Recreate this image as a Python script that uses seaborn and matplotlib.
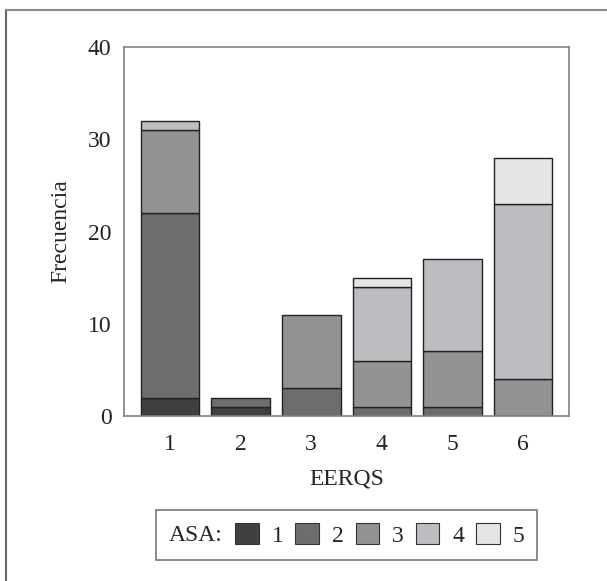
import numpy as np
import matplotlib
matplotlib.use("Agg")
import matplotlib.pyplot as plt
import seaborn as sns
from matplotlib.patches import Patch
from matplotlib.lines import Line2D
from matplotlib.offsetbox import HPacker

# Data: frequency per EERQS group, split by ASA class
eerqs = ["1", "2", "3", "4", "5", "6"]
asa_labels = ["1", "2", "3", "4", "5"]
asa1 = [2, 1, 0, 0, 0, 0]
asa2 = [20, 1, 3, 1, 1, 0]
asa3 = [9, 0, 8, 5, 6, 4]
asa4 = [1, 0, 0, 8, 10, 19]
asa5 = [0, 0, 0, 1, 0, 5]
colors = ["#404040", "#6d6d6d", "#939394", "#bcbdc0", "#e4e5e7"]

sns.set_style("white")
plt.rcParams["font.family"] = ["Liberation Serif", "DejaVu Serif"]
FS = 17

fig = plt.figure(figsize=(6.07, 5.81), dpi=100)
ax = fig.add_axes([0.2043, 0.284, 0.7331, 0.635])

layers = [asa1, asa2, asa3, asa4, asa5]
bottom = np.zeros(len(eerqs))
for vals, col in zip(layers, colors):
    vals = np.array(vals, dtype=float)
    mask = vals > 0
    sns.barplot(x=np.array(eerqs)[mask], y=vals[mask], bottom=bottom[mask],
                order=eerqs, color=col, saturation=1, width=0.83,
                edgecolor="#222222", linewidth=1.0, ax=ax)
    bottom += vals

ax.set_xlim(-0.65, 5.65)
ax.set_ylim(0, 40)
ax.set_yticks([0, 10, 20, 30, 40])
ax.set_xlabel("EERQS", fontsize=FS, labelpad=10)
ax.set_ylabel("Frecuencia", fontsize=FS, labelpad=12)
ax.tick_params(axis="both", labelsize=FS, colors="#222222", length=7, width=1,
               direction="out", pad=2)
ax.tick_params(axis="x", color="#777777", pad=6)
ax.tick_params(axis="y", color="#777777")
for sp in ax.spines.values():
    sp.set_color("#808080")
    sp.set_linewidth(1.2)

# Legend with inline title
handles = [Patch(facecolor=c, edgecolor="#333333", linewidth=0.8) for c in colors]
leg = fig.legend(handles, asa_labels, title="ASA:", ncol=5, loc="center",
                 bbox_to_anchor=(0.571, 0.079), fontsize=FS, title_fontsize=FS,
                 frameon=True, fancybox=False, edgecolor="#555555",
                 handlelength=1.0, handleheight=1.0, handletextpad=0.55,
                 columnspacing=0.5, borderpad=0.55)
leg.get_frame().set_linewidth(1.2)
leg._legend_box = HPacker(pad=leg.borderpad * FS, sep=9, align="center",
                          children=[leg._legend_title_box, leg._legend_handle_box])
leg._legend_box.set_figure(fig)
leg._legend_box.set_offset(leg._findoffset)

# Outer frame (left and top edges)
fig.add_artist(Line2D([0.010, 0.010], [0, 0.983], color="#666666", linewidth=1.5,
                      transform=fig.transFigure))
fig.add_artist(Line2D([0.010, 1.0], [0.983, 0.983], color="#888888", linewidth=1.5,
                      transform=fig.transFigure))

fig.savefig("out.png", dpi=100)
